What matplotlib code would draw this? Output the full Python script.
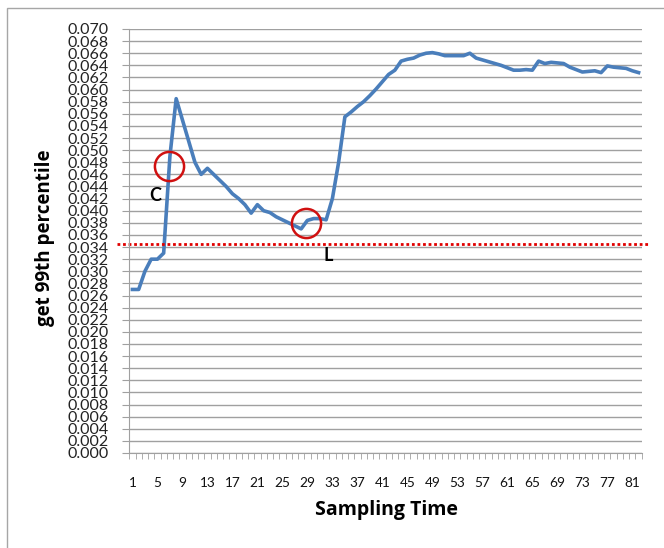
import numpy as np
import matplotlib.pyplot as plt
from matplotlib.patches import Rectangle

# get 99th percentile per sampling time
samples = np.arange(1, 83)
p99 = [0.027, 0.027, 0.030, 0.032, 0.032, 0.033, 0.049, 0.0585, 0.055, 0.0515,
       0.048, 0.046, 0.047, 0.046, 0.045, 0.044, 0.0428, 0.042, 0.041, 0.0396,
       0.041, 0.040, 0.0397, 0.039, 0.0385, 0.038, 0.0375, 0.037, 0.0384, 0.0387,
       0.0387, 0.0385, 0.042, 0.048, 0.0555, 0.0563, 0.0572, 0.058, 0.059, 0.0601,
       0.0613, 0.0625, 0.0632, 0.0647, 0.065, 0.0652, 0.0657, 0.066, 0.0661, 0.0659,
       0.0656, 0.0656, 0.0656, 0.0656, 0.066, 0.0652, 0.0649, 0.0646, 0.0643, 0.064,
       0.0636, 0.0632, 0.0632, 0.0633, 0.0632, 0.0647, 0.0643, 0.0645, 0.0644, 0.0643,
       0.0637, 0.0633, 0.0629, 0.063, 0.0631, 0.0628, 0.0639, 0.0637, 0.0636, 0.0635,
       0.0631, 0.0628]
x_labels = list(range(1, 82, 4))
y_ticks = np.round(np.arange(0, 0.0701, 0.002), 3)
threshold = 0.0345
marks = {'C': (6.9, 0.0473), 'L': (28.7, 0.0379)}
mark_text = {'C': (4.6, 0.0425), 'L': (32.4, 0.0326)}

W, H = 664, 548
fig = plt.figure(figsize=(W / 100, H / 100), dpi=100)
fig.patch.set_facecolor('white')
fig.patches.append(Rectangle((7 / W, -0.1), 1.2, 1 - 8 / H + 0.1, transform=fig.transFigure,
                             fill=False, edgecolor='#a6a6a6', lw=1))

left, right, top, bottom = 129.3, 641.7, 29, 453
ax = fig.add_axes([left / W, 1 - bottom / H, (right - left) / W, (bottom - top) / H])

grid_c = '#a0a0a0'
ax.set_xlim(0.5, 82.5)
ax.set_ylim(0, 0.070)
ax.set_yticks(y_ticks)
ax.set_yticklabels([f'{v:.3f}' for v in y_ticks], fontsize=11.5, family='Lato', color='#222222')
ax.set_xticks(x_labels)
ax.set_xticklabels([str(v) for v in x_labels], fontsize=9.8, family='Lato', color='#111111')
ax.set_xticks(np.arange(0.5, 83, 1), minor=True)
ax.tick_params(axis='x', which='major', length=0, pad=17)
ax.tick_params(axis='x', which='minor', length=4, color=grid_c, direction='out')
ax.tick_params(axis='y', length=5, color=grid_c, direction='out', pad=10)
ax.yaxis.grid(True, color=grid_c, lw=1)
ax.set_axisbelow(True)
for s in ['top', 'right']:
    ax.spines[s].set_visible(False)
for s in ['left', 'bottom']:
    ax.spines[s].set_color(grid_c)

ax.plot(samples, p99, color='#4a7ebb', lw=2.6, solid_joinstyle='round')
ax.axhline(threshold, xmin=-0.024, xmax=1.016, color='#e00000', lw=2,
           linestyle=(0, (1, 1)), clip_on=False)

for k, (cx, cy) in marks.items():
    ax.plot(cx, cy, marker='o', ms=21, mfc='none', mec='#d01010', mew=1.8)
    tx, ty = mark_text[k]
    ax.text(tx, ty, k, fontsize=13, fontweight='bold', family='Lato', ha='center', va='center')

ax.set_xlabel('Sampling Time', fontsize=14, fontweight='bold', family='Open Sans', va='center')
ax.xaxis.set_label_coords(0.501, -0.134)
ax.set_ylabel('get 99th percentile', fontsize=13.5, fontweight='bold', family='Open Sans', va='center')
ax.yaxis.set_label_coords(-0.1645, 0.507)

fig.savefig('out.png', dpi=100)
